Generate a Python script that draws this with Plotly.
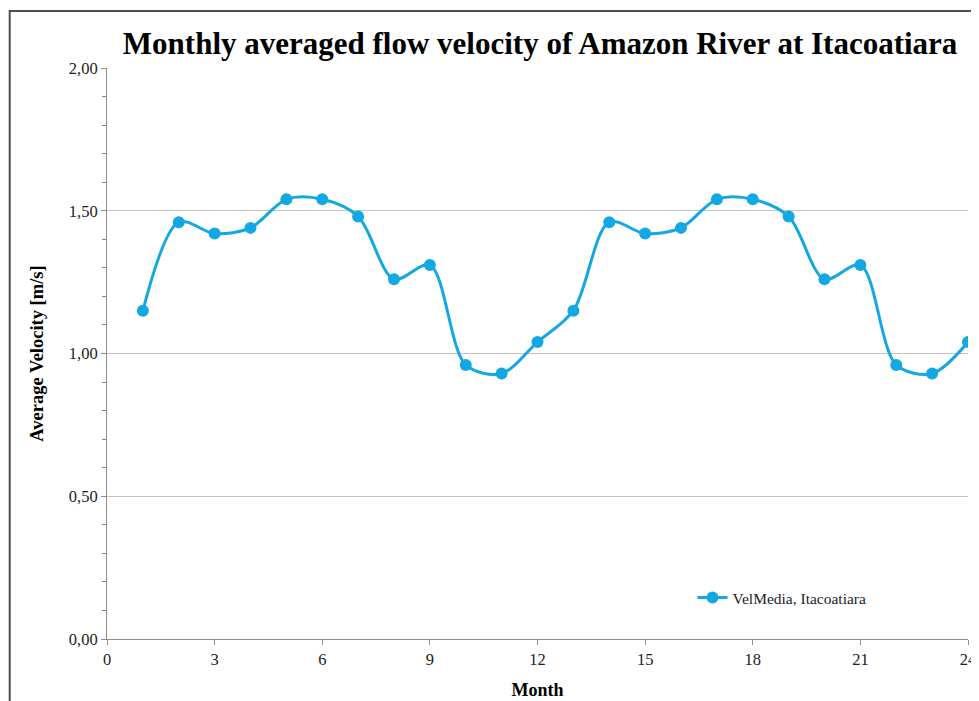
import plotly.graph_objects as go

# Monthly averaged velocity (m/s), two years of the same yearly cycle
months = list(range(1, 25))
velocity = [1.15, 1.46, 1.42, 1.44, 1.54, 1.54, 1.48, 1.26, 1.31, 0.96, 0.93, 1.04,
            1.15, 1.46, 1.42, 1.44, 1.54, 1.54, 1.48, 1.26, 1.31, 0.96, 0.93, 1.04]
series_name = "VelMedia, Itacoatiara"
x_ticks = [0, 3, 6, 9, 12, 15, 18, 21, 24]
y_ticks = [0, 0.5, 1.0, 1.5, 2.0]

serif = "Liberation Serif, Times New Roman, serif"
blue = "#14A8E3"

fig = go.Figure()

fig.add_trace(go.Scatter(
    x=months,
    y=velocity,
    mode="lines+markers",
    name=series_name,
    line=dict(color=blue, width=3, shape="spline", smoothing=0.9),
    marker=dict(color=blue, size=12, symbol="circle"),
))

# frame around the whole chart
fig.add_shape(type="rect", xref="paper", yref="paper",
              x0=-0.113, x1=1.03, y0=-0.13, y1=1.10,
              line=dict(color="#4d4d4d", width=2), layer="below")

# page body has an 8px margin, so the figure is offset by 8px
fig.update_layout(
    width=971,
    height=693,
    margin=dict(l=99, r=11, t=60, b=62, autoexpand=False),
    paper_bgcolor="white",
    plot_bgcolor="white",
    separators=", ",
    font=dict(family=serif, size=16, color="#222222"),
    title=dict(
        text="<b>Monthly averaged flow velocity of Amazon River at Itacoatiara</b>",
        x=0.548, xanchor="center",
        y=0.949, yanchor="middle",
        font=dict(family=serif, size=31, color="black"),
    ),
    showlegend=True,
    legend=dict(
        x=0.68, y=0.072, xanchor="left", yanchor="middle",
        bgcolor="rgba(0,0,0,0)",
        font=dict(family=serif, size=15.5, color="#222222"),
    ),
)

fig.update_xaxes(
    range=[0, 24],
    tickvals=x_ticks,
    automargin=False,
    showgrid=False,
    zeroline=False,
    showline=True, linecolor="#8c8c8c", linewidth=1,
    ticks="outside", ticklen=5, tickcolor="#8c8c8c",
    tickfont=dict(family=serif, size=16.5, color="#222222"),
    title=dict(text="<b>Month</b>", font=dict(family=serif, size=18, color="black"), standoff=15),
)

fig.update_yaxes(
    range=[0, 2.0],
    tickvals=y_ticks,
    tickformat=".2f",
    automargin=False,
    showgrid=True, gridcolor="#c4c4c4", gridwidth=1,
    zeroline=False,
    showline=True, linecolor="#8c8c8c", linewidth=1,
    ticks="outside", ticklen=5, tickcolor="#8c8c8c",
    tickfont=dict(family=serif, size=16.5, color="#222222"),
    minor=dict(dtick=0.1, ticks="outside", ticklen=4, tickcolor="#8c8c8c", showgrid=False),
    title=dict(text="<b>Average Velocity [m/s]</b>", font=dict(family=serif, size=18.5, color="black"), standoff=20),
)

fig.write_html("out.html")
